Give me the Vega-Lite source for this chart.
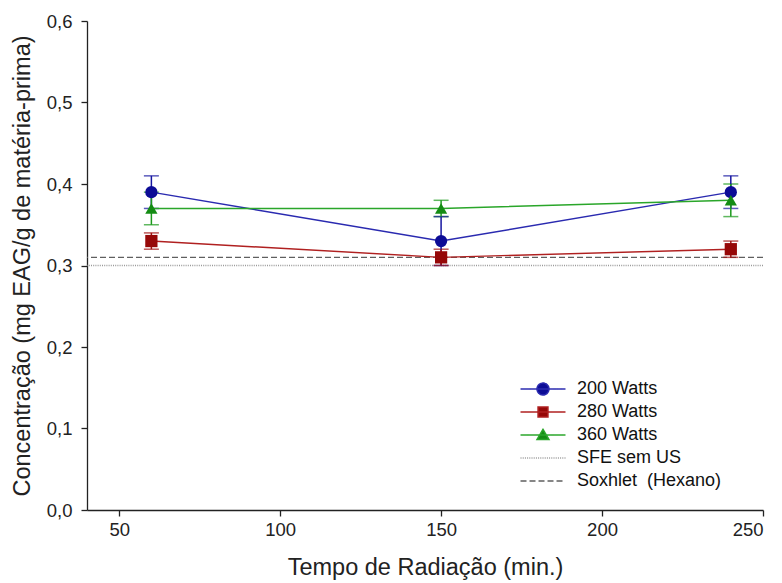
{
  "$schema": "https://vega.github.io/schema/vega-lite/v6.json",
  "width": 676,
  "height": 489,
  "autosize": {"type": "none"},
  "padding": {"left": 87, "top": 21, "right": 19, "bottom": 73},
  "background": "white",
  "config": {
    "view": {"stroke": null},
    "font": "Liberation Sans",
    "axis": {
      "grid": false,
      "domainColor": "#222",
      "domainWidth": 1.3,
      "tickColor": "#222",
      "tickWidth": 1.3,
      "tickSize": 6,
      "labelFont": "Liberation Sans",
      "labelFontSize": 18.5,
      "labelColor": "#222",
      "titleFont": "Liberation Sans",
      "titleFontSize": 23.5,
      "titleFontWeight": "normal",
      "titleColor": "#222"
    }
  },
  "datasets": {
    "medidas": [
      {"tempo": 60, "serie": "200 Watts", "valor": 0.39, "erro": 0.02},
      {"tempo": 150, "serie": "200 Watts", "valor": 0.33, "erro": 0.03},
      {"tempo": 240, "serie": "200 Watts", "valor": 0.39, "erro": 0.02},
      {"tempo": 60, "serie": "280 Watts", "valor": 0.33, "erro": 0.01},
      {"tempo": 150, "serie": "280 Watts", "valor": 0.31, "erro": 0.01},
      {"tempo": 240, "serie": "280 Watts", "valor": 0.32, "erro": 0.01},
      {"tempo": 60, "serie": "360 Watts", "valor": 0.37, "erro": 0.02},
      {"tempo": 150, "serie": "360 Watts", "valor": 0.37, "erro": 0.01},
      {"tempo": 240, "serie": "360 Watts", "valor": 0.38, "erro": 0.02}
    ],
    "referencias": [
      {"serie": "SFE sem US", "valor": 0.30},
      {"serie": "Soxhlet \u00a0(Hexano)", "valor": 0.31}
    ]
  },
  "layer": [
    {
      "data": {"name": "referencias"},
      "mark": {"type": "rule", "strokeWidth": 1.3},
      "encoding": {
        "y": {
          "field": "valor", "type": "quantitative",
          "scale": {"domain": [0, 0.6], "nice": false, "zero": false},
          "title": "Concentração (mg EAG/g de matéria-prima)",
          "axis": {"values": [0, 0.1, 0.2, 0.3, 0.4, 0.5, 0.6], "labelExpr": "replace(format(datum.value, '.1f'), '.', ',')", "labelPadding": 9, "titlePadding": 12}
        },
        "color": {"field": "serie", "type": "nominal", "scale": {"domain": ["SFE sem US", "Soxhlet \u00a0(Hexano)"], "range": ["#9a9a9a", "#5f5f5f"]}, "legend": null},
        "strokeDash": {"field": "serie", "type": "nominal", "scale": {"domain": ["SFE sem US", "Soxhlet \u00a0(Hexano)"], "range": [[1, 1.2], [6, 3]]}, "legend": null}
      }
    },
    {
      "data": {"name": "medidas"},
      "mark": {"type": "errorbar", "ticks": {"size": 15}, "thickness": 1.5},
      "encoding": {
        "x": {
          "field": "tempo", "type": "quantitative",
          "scale": {"domain": [40, 250], "nice": false, "zero": false},
          "title": "Tempo de Radiação (min.)",
          "axis": {"values": [50, 100, 150, 200, 250], "labelPadding": 4, "titlePadding": 17}
        },
        "y": {"field": "valor", "type": "quantitative", "title": "Concentração (mg EAG/g de matéria-prima)"},
        "yError": {"field": "erro"},
        "color": {"field": "serie", "type": "nominal", "scale": {"domain": ["200 Watts", "280 Watts", "360 Watts"], "range": ["#1616a0", "#a01010", "#1c9a1c"]}, "legend": null}
      }
    },
    {
      "data": {"name": "medidas"},
      "mark": {"type": "line", "strokeWidth": 1.4},
      "encoding": {
        "x": {"field": "tempo", "type": "quantitative", "title": "Tempo de Radiação (min.)"},
        "y": {"field": "valor", "type": "quantitative", "title": "Concentração (mg EAG/g de matéria-prima)"},
        "color": {"field": "serie", "type": "nominal", "scale": {"domain": ["200 Watts", "280 Watts", "360 Watts"], "range": ["#2a2ab0", "#b02020", "#2aa62a"]}, "legend": null}
      }
    },
    {
      "data": {"name": "medidas"},
      "mark": {"type": "point", "filled": true, "opacity": 1, "size": 150},
      "encoding": {
        "x": {"field": "tempo", "type": "quantitative", "title": "Tempo de Radiação (min.)"},
        "y": {"field": "valor", "type": "quantitative", "title": "Concentração (mg EAG/g de matéria-prima)"},
        "color": {"field": "serie", "type": "nominal", "scale": {"domain": ["200 Watts", "280 Watts", "360 Watts"], "range": ["#0c0c96", "#960808", "#148c14"]}, "legend": null},
        "shape": {"field": "serie", "type": "nominal", "scale": {"domain": ["200 Watts", "280 Watts", "360 Watts"], "range": ["circle", "square", "triangle-up"]}, "legend": null}
      }
    },
    {
      "data": {"values": []},
      "mark": {"type": "point", "filled": true, "opacity": 1, "size": 506, "strokeWidth": 1.5},
      "encoding": {
        "fill": {
          "field": "serie", "type": "nominal",
          "scale": {"domain": ["200 Watts", "280 Watts", "360 Watts", "SFE sem US", "Soxhlet \u00a0(Hexano)"], "range": ["#0c0c96", "#960808", "#148c14", "#9a9a9a", "#5f5f5f"]},
          "legend": {"title": null, "orient": "none", "legendX": 444, "legendY": 356, "labelFontSize": 18, "labelFont": "Liberation Sans", "labelColor": "#111", "symbolSize": 506, "labelOffset": 22, "rowPadding": 2, "padding": 0, "symbolStrokeWidth": 1.5, "symbolOpacity": 1}
        },
        "stroke": {
          "field": "serie", "type": "nominal",
          "scale": {"domain": ["200 Watts", "280 Watts", "360 Watts", "SFE sem US", "Soxhlet \u00a0(Hexano)"], "range": ["#2a2ab0", "#b02020", "#2aa62a", "#9a9a9a", "#5f5f5f"]},
          "legend": {"title": null, "orient": "none", "legendX": 444, "legendY": 356, "labelFontSize": 18, "labelFont": "Liberation Sans", "labelColor": "#111", "symbolSize": 506, "labelOffset": 22, "rowPadding": 2, "padding": 0, "symbolStrokeWidth": 1.5, "symbolOpacity": 1}
        },
        "shape": {
          "field": "serie", "type": "nominal",
          "scale": {"domain": ["200 Watts", "280 Watts", "360 Watts", "SFE sem US", "Soxhlet \u00a0(Hexano)"], "range": [
            "M-2,0H2M-0.53,0A0.53,0.53 0 1,0 0.53,0A0.53,0.53 0 1,0 -0.53,0Z",
            "M-2,0H2M-0.44,-0.44H0.44V0.44H-0.44Z",
            "M-2,0H2M0,-0.5L0.53,0.4H-0.53Z",
            "M-2,0H2",
            "M-2,0H2"
          ]},
          "legend": {"title": null, "orient": "none", "legendX": 444, "legendY": 356, "labelFontSize": 18, "labelFont": "Liberation Sans", "labelColor": "#111", "symbolSize": 506, "labelOffset": 22, "rowPadding": 2, "padding": 0, "symbolStrokeWidth": 1.5, "symbolOpacity": 1}
        },
        "strokeDash": {
          "field": "serie", "type": "nominal",
          "scale": {"domain": ["200 Watts", "280 Watts", "360 Watts", "SFE sem US", "Soxhlet \u00a0(Hexano)"], "range": [[1, 0], [1, 0], [1, 0], [1, 1.2], [6, 3]]},
          "legend": {"title": null, "orient": "none", "legendX": 444, "legendY": 356, "labelFontSize": 18, "labelFont": "Liberation Sans", "labelColor": "#111", "symbolSize": 506, "labelOffset": 22, "rowPadding": 2, "padding": 0, "symbolStrokeWidth": 1.5, "symbolOpacity": 1}
        }
      }
    }
  ],
  "resolve": {"scale": {"color": "independent", "shape": "independent", "strokeDash": "independent", "fill": "independent", "stroke": "independent"}}
}
